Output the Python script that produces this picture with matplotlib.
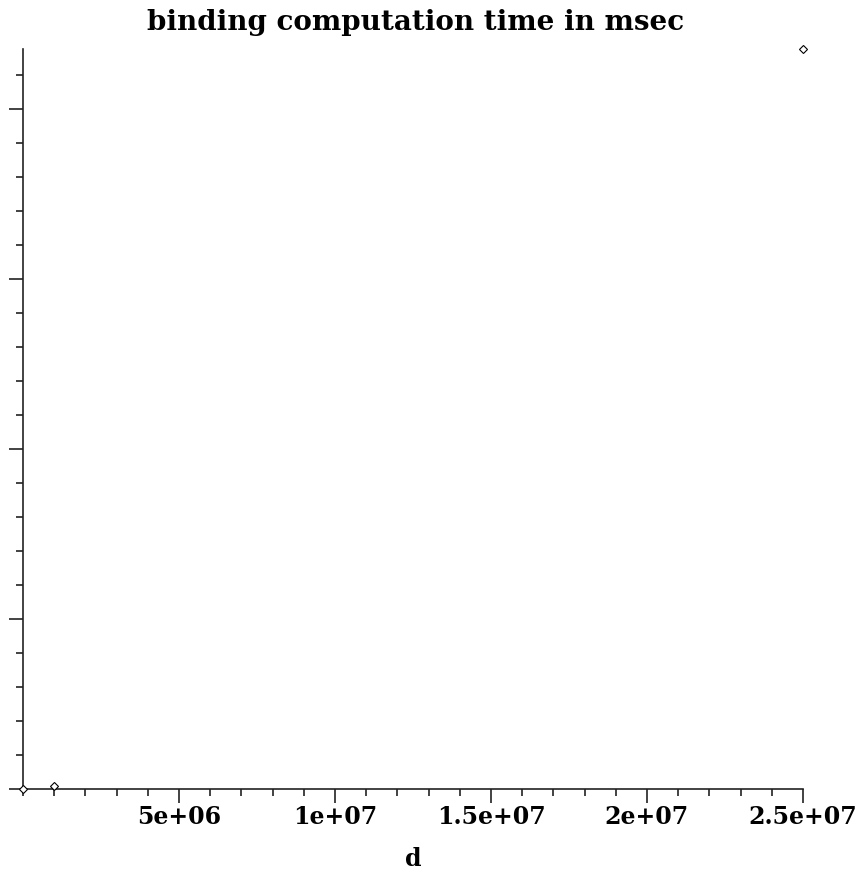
import matplotlib.pyplot as plt
from matplotlib.ticker import MultipleLocator

# data (y axis carries no labels, scale is estimated)
d = [0, 1e6, 2.5e7]
msec = [0, 20, 4350]

xticks = [5e6, 1e7, 1.5e7, 2e7, 2.5e7]
xticklabels = ["5e+06", "1e+07", "1.5e+07", "2e+07", "2.5e+07"]

plt.rcParams['font.family'] = ['DejaVu Serif']

fig = plt.figure(figsize=(8.65, 8.77), dpi=100)
ax = fig.add_axes([23 / 865, 88 / 877, (803 - 23) / 865, (828 - 88) / 877])

ax.plot(d, msec, linestyle='none', marker='D', markersize=4,
        markerfacecolor='white', markeredgecolor='black', markeredgewidth=0.8,
        clip_on=False, zorder=5)

ax.set_xlim(0, 2.5e7)
ax.set_ylim(0, 4350)

ax.spines['top'].set_visible(False)
ax.spines['right'].set_visible(False)
for s in ('left', 'bottom'):
    ax.spines[s].set_linewidth(1.2)
    ax.spines[s].set_color('#222222')

ax.set_xticks(xticks)
ax.set_xticklabels(xticklabels, fontsize=17, fontweight='bold')
ax.xaxis.set_minor_locator(MultipleLocator(1e6))
ax.yaxis.set_major_locator(MultipleLocator(1000))
ax.yaxis.set_minor_locator(MultipleLocator(200))
ax.tick_params(axis='both', which='major', length=10, width=1.2, direction='out', color='#222222')
ax.tick_params(axis='both', which='minor', length=5, width=1.2, direction='out', color='#222222')
ax.tick_params(axis='x', pad=1.5)
ax.tick_params(axis='y', labelleft=False)

ax.set_xlabel("d", fontsize=17, fontweight='bold', labelpad=13)
fig.text(0.48, 1 - 22 / 877, "binding computation time in msec",
         ha='center', va='center', fontsize=20, fontweight='bold')

fig.savefig("out.png", dpi=100)
